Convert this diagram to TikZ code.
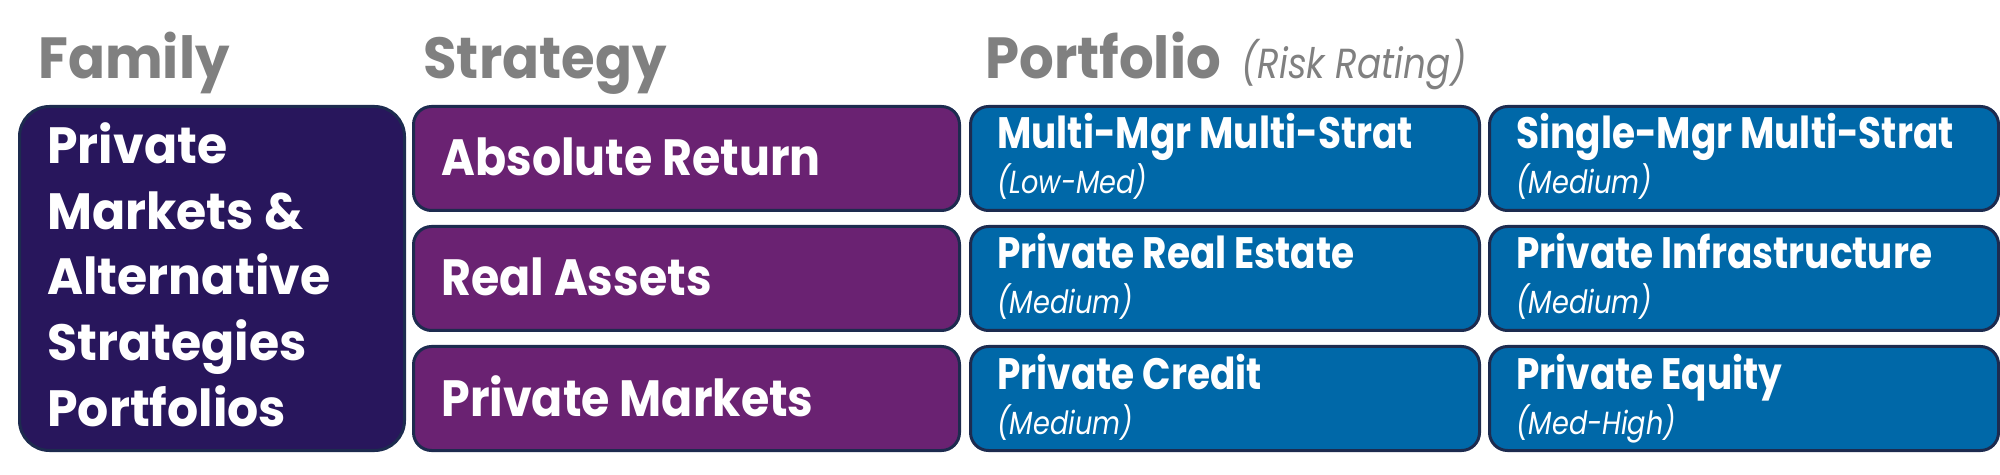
\documentclass[tikz,border=0pt]{standalone}
\usepackage{fontspec}
\setmainfont{Poppins}[FakeStretch=0.85]
\newfontfamily\headfont{Poppins}[FakeStretch=0.94]
\newfontfamily\famfont{Poppins}[FakeStretch=0.96]
\newfontfamily\strfont{Poppins}[FakeStretch=0.90]
\definecolor{famfill}{HTML}{28165C}
\definecolor{strfill}{HTML}{6A2272}
\definecolor{portfill}{HTML}{0068A8}
\definecolor{outl}{HTML}{1D2B4F}
\definecolor{headgray}{HTML}{808080}
\tikzset{
  boxbase/.style={draw=outl, line width=1.5pt, anchor=north west, inner sep=0pt},
  fambox/.style={boxbase, fill=famfill, rounded corners=15pt, minimum width=192.5pt, minimum height=172pt},
  strbox/.style={boxbase, fill=strfill, rounded corners=9pt, minimum width=273pt, minimum height=52pt},
  portbox/.style={boxbase, fill=portfill, rounded corners=9pt, minimum width=254.5pt, minimum height=52pt},
  headtxt/.style={anchor=base west, inner sep=0pt, text=headgray, font=\headfont\fontsize{29}{29}\selectfont\bfseries},
  risktxt/.style={anchor=base west, inner sep=0pt, text=headgray, font=\fontsize{21}{21}\selectfont\itshape},
  famtxt/.style={anchor=base west, inner sep=0pt, text=white, font=\famfont\fontsize{25.5}{25.5}\selectfont\bfseries},
  strtxt/.style={anchor=base west, inner sep=0pt, text=white, font=\strfont\fontsize{25.5}{25.5}\selectfont\bfseries},
  titletxt/.style={anchor=base west, inner sep=0pt, text=white, font=\fontsize{22}{22}\selectfont\bfseries},
  subtxt/.style={anchor=base west, inner sep=0pt, text=white, font=\fontsize{16}{16}\selectfont\itshape},
}
\begin{document}
\begin{tikzpicture}[x=0.5pt,y=-0.5pt]
\useasboundingbox (0,0) rectangle (2000,475);
% headings
\node[headtxt] (hfam) at (38,79) {Family};
\node[headtxt] (hstr) at (423,79) {Strategy};
\node[headtxt] (hport) at (985,79) {Portfolio};
\node[risktxt] (hrisk) at (1241,79) {(Risk Rating)};
% family
\node[fambox] (fam) at (18,105) {};
\node[famtxt] (f1) at (47,164) {Private};
\node[famtxt] (f2) at (47,229.5) {Markets \&};
\node[famtxt] (f3) at (47,295) {Alternative};
\node[famtxt] (f4) at (47,360.5) {Strategies};
\node[famtxt] (f5) at (47,426) {Portfolios};
% strategies
\node[strbox] (s1) at (412,105) {};
\node[strbox] (s2) at (412,225) {};
\node[strbox] (s3) at (412,345) {};
\node[strtxt] (s1t) at (441,176) {Absolute Return};
\node[strtxt] (s2t) at (441,296) {Real Assets};
\node[strtxt] (s3t) at (441,416) {Private Markets};
% portfolios
\node[portbox] (p11) at (969,105) {};
\node[portbox] (p12) at (1488,105) {};
\node[portbox] (p21) at (969,225) {};
\node[portbox] (p22) at (1488,225) {};
\node[portbox] (p31) at (969,345) {};
\node[portbox] (p32) at (1488,345) {};
\node[titletxt] (p11t) at (997,149) {Multi-Mgr Multi-Strat};
\node[subtxt] (p11s) at (997,194) {(Low-Med)};
\node[titletxt] (p12t) at (1516,149) {Single-Mgr Multi-Strat};
\node[subtxt] (p12s) at (1516,194) {(Medium)};
\node[titletxt] (p21t) at (997,269) {Private Real Estate};
\node[subtxt] (p21s) at (997,314) {(Medium)};
\node[titletxt] (p22t) at (1516,269) {Private Infrastructure};
\node[subtxt] (p22s) at (1516,314) {(Medium)};
\node[titletxt] (p31t) at (997,389) {Private Credit};
\node[subtxt] (p31s) at (997,434) {(Medium)};
\node[titletxt] (p32t) at (1516,389) {Private Equity};
\node[subtxt] (p32s) at (1516,434) {(Med-High)};
\end{tikzpicture}
\end{document}
